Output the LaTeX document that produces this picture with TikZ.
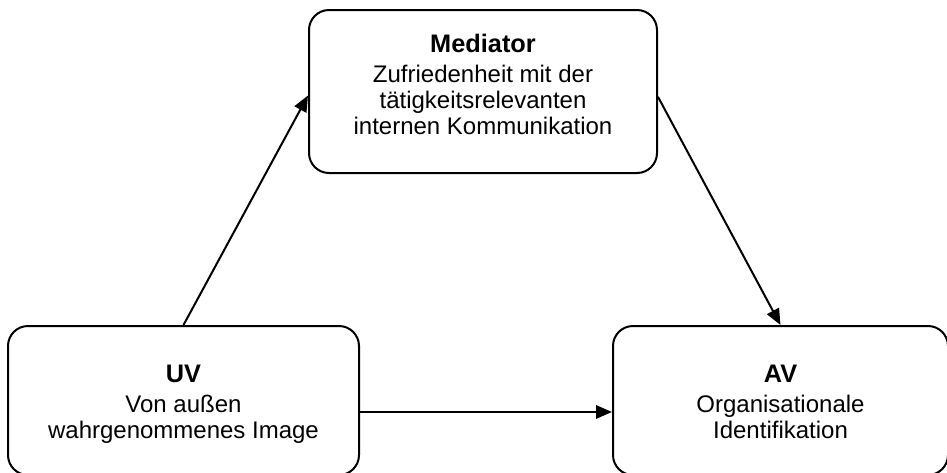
\documentclass[tikz,border=0pt]{standalone}
\usepackage{fontspec}
\setmainfont{Liberation Sans}
\usetikzlibrary{arrows.meta}
\newcommand{\boxtitle}[1]{{\bfseries\fontsize{19}{22}\selectfont #1}\\[3pt]}

\begin{document}
\begin{tikzpicture}[x=0.75pt,y=-0.75pt]

%
% Styles
%
\tikzstyle{block} = [rectangle,rounded corners=15pt,draw=black,line width=1.5pt,inner sep=0pt]
\tikzstyle{caption} = [align=center,anchor=north,inner sep=0pt,font=\fontsize{18}{19.5}\selectfont]
\tikzstyle{link} = [-{Triangle[length=12pt,width=10pt]},line width=1.5pt]

\useasboundingbox (0,0) rectangle (947,472);

\node[block,minimum width=261pt,minimum height=122.25pt] (med) at (483,91.5) {};
\node[block,minimum width=263.25pt,minimum height=111.75pt] (uv) at (183.5,400.5) {};
\node[block,minimum width=251.25pt,minimum height=111.75pt] (av) at (780.5,400.5) {};

\node[caption] (medtext) at (483,34)  {\boxtitle{Mediator}Zufriedenheit mit der\\tätigkeitsrelevanten\\internen Kommunikation};
\node[caption] (uvtext)  at (183.5,365) {\boxtitle{UV}Von außen\\wahrgenommenes Image};
\node[caption] (avtext)  at (780.5,365) {\boxtitle{AV}Organisationale\\Identifikation};

\draw[link] (uv.north) -- ([yshift=-3pt]med.west);
\draw[link] ([yshift=-4pt]med.east) -- (av.north);
\draw[link] ([yshift=-8.6pt]uv.east) -- ([yshift=-8.6pt]av.west);

\end{tikzpicture}
\end{document}
